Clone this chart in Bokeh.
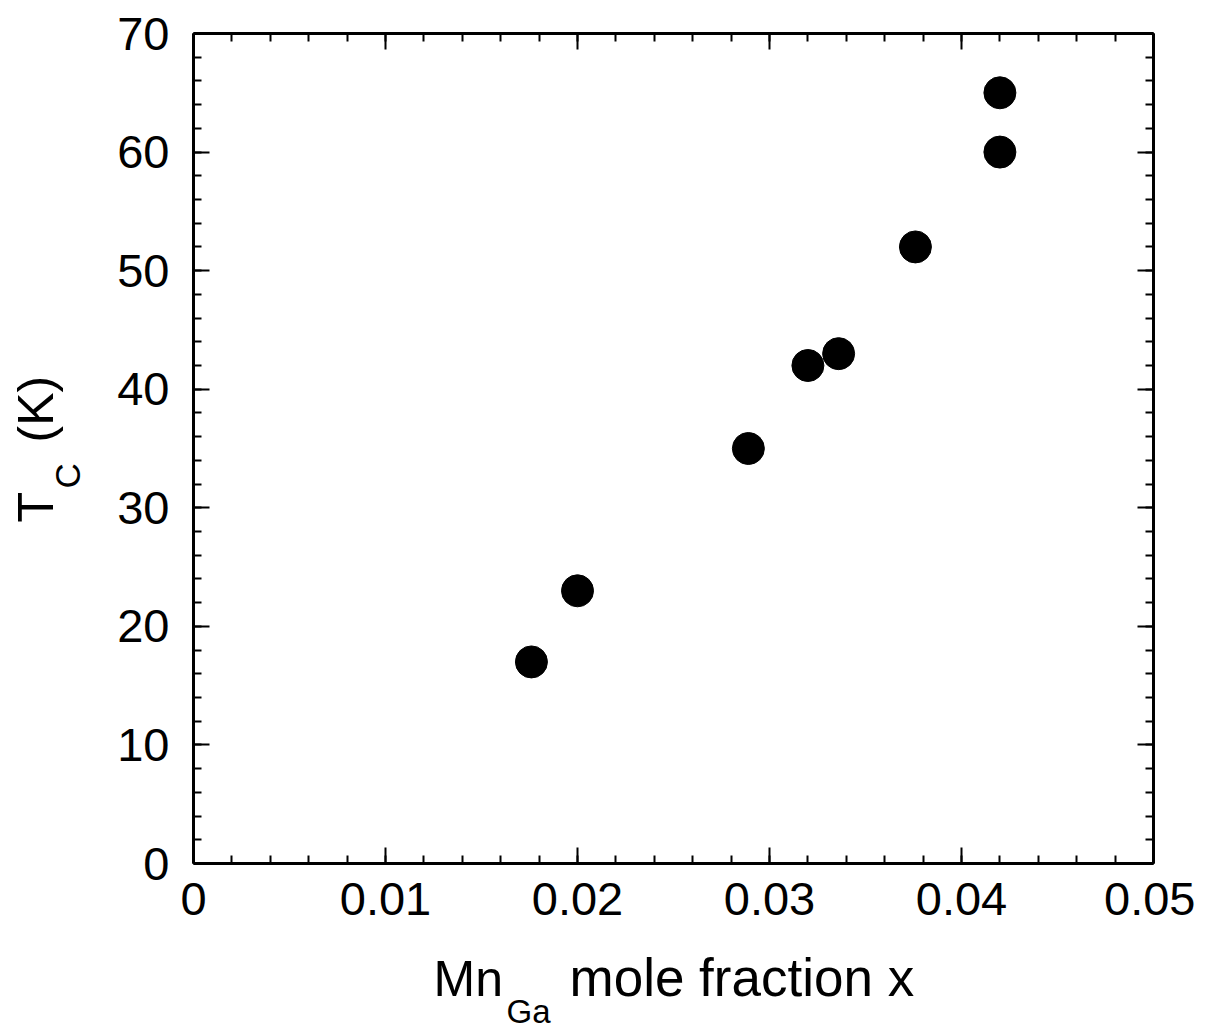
from bokeh.plotting import figure
from bokeh.models import (LinearAxis, FixedTicker, Range1d, Label,
                          CustomJSTickFormatter)
from bokeh.layouts import row, column
from bokeh.embed import file_html
from bokeh.resources import INLINE
import math

# ---- data ----
mn_fraction = [0.0176, 0.0200, 0.0289, 0.0320, 0.0336, 0.0376, 0.0420, 0.0420]
tc_kelvin = [17, 23, 35, 42, 43, 52, 60, 65]

x_major = [0, 0.01, 0.02, 0.03, 0.04, 0.05]
x_minor = [i * 0.002 for i in range(26)]
y_major = [0, 10, 20, 30, 40, 50, 60, 70]
y_minor = [i * 2 for i in range(36)]

FONT = "Liberation Sans"
YW = 93            # width of the y-title strip
MAIN_W, MAIN_H = 1102, 933
XH = 97            # height of the x-title strip

p = figure(width=MAIN_W, height=MAIN_H, output_backend="svg",
           toolbar_location=None,
           x_range=Range1d(0, 0.05), y_range=Range1d(0, 70),
           x_axis_location=None, y_axis_location=None,
           min_border_left=100, min_border_right=42,
           min_border_top=33, min_border_bottom=70)
p.outline_line_color = None
p.grid.visible = False
p.background_fill_color = "white"
p.border_fill_color = "white"


def style(ax, labels=True):
    ax.axis_line_width = 3
    ax.axis_line_color = "black"
    ax.major_tick_in = 16
    ax.major_tick_out = 0
    ax.minor_tick_in = 8
    ax.minor_tick_out = 0
    ax.major_tick_line_width = 2
    ax.minor_tick_line_width = 2
    ax.major_tick_line_color = "black"
    ax.minor_tick_line_color = "black"
    ax.major_label_text_font = FONT
    ax.major_label_text_font_size = "47px"
    ax.major_label_text_color = "black"
    if not labels:
        ax.formatter = CustomJSTickFormatter(code="return ''")


xfmt = "return tick == 0 ? '0' : tick.toFixed(2);"

xb = LinearAxis(ticker=FixedTicker(ticks=x_major, minor_ticks=x_minor),
                formatter=CustomJSTickFormatter(code=xfmt))
style(xb)
xb.major_label_standoff = 19
p.add_layout(xb, "below")

xt = LinearAxis(ticker=FixedTicker(ticks=x_major, minor_ticks=x_minor))
style(xt, labels=False)
p.add_layout(xt, "above")

yl = LinearAxis(ticker=FixedTicker(ticks=y_major, minor_ticks=y_minor))
style(yl)
yl.major_label_standoff = 24
p.add_layout(yl, "left")

yr = LinearAxis(ticker=FixedTicker(ticks=y_major, minor_ticks=y_minor))
style(yr, labels=False)
p.add_layout(yr, "right")

p.scatter(mn_fraction, tc_kelvin, size=32, color="black", line_color="black")


def strip(w, h):
    f = figure(width=w, height=h, output_backend="svg", toolbar_location=None,
               x_axis_location=None, y_axis_location=None,
               min_border=0, x_range=Range1d(0, 1), y_range=Range1d(0, 1))
    f.outline_line_color = None
    f.grid.visible = False
    f.background_fill_color = "white"
    f.border_fill_color = "white"
    return f


def lab(f, text, x, y, size, angle=0):
    f.add_layout(Label(text=text, x=x, y=y, x_units="canvas", y_units="canvas",
                       text_font=FONT, text_font_size=size, text_color="black",
                       text_align="left", text_baseline="alphabetic",
                       angle=angle))


# x title strip (below the main plot, offset by YW); y is the text centre line
fx = strip(MAIN_W, XH)
lab(fx, "Mn", 433 - YW, 45, "50px")
lab(fx, "Ga", 506 - YW, 78, "33px")
lab(fx, "mole fraction x", 569 - YW, 44, "53px")

# y title strip (left of everything); x is the text centre line
fy = strip(YW, MAIN_H + XH)
lab(fy, "T", 35, 522, "50px", angle=math.pi / 2)
lab(fy, "C", 67, 488, "35px", angle=math.pi / 2)
lab(fy, "(K)", 35, 442, "50px", angle=math.pi / 2)

layout = row(fy, column(p, fx, spacing=0), spacing=0)

open("out.html", "w").write(file_html(layout, INLINE))
